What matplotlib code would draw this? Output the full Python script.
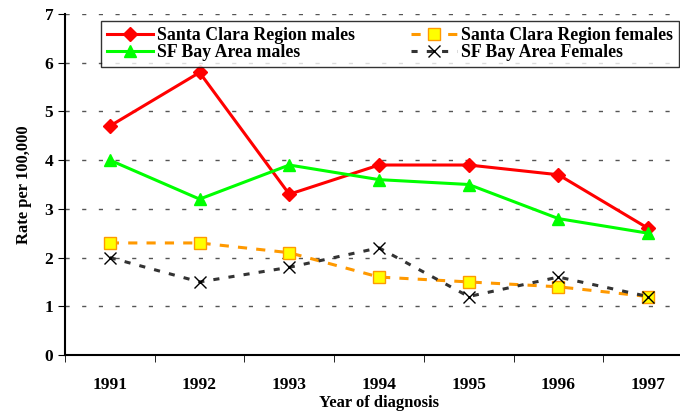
import matplotlib
matplotlib.use('Agg')
import matplotlib.pyplot as plt
import numpy as np

years = ['1991', '1992', '1993', '1994', '1995', '1996', '1997']
sc_males = [4.7, 5.8, 3.3, 3.9, 3.9, 3.7, 2.6]
sc_females = [2.3, 2.3, 2.1, 1.6, 1.5, 1.4, 1.2]
sf_males = [4.0, 3.2, 3.9, 3.6, 3.5, 2.8, 2.5]
sf_females = [2.0, 1.5, 1.8, 2.2, 1.2, 1.6, 1.2]

plt.rcParams['font.family'] = 'Liberation Serif'
plt.rcParams['font.weight'] = 'bold'

fig = plt.figure(figsize=(6.8, 4.13), dpi=100)
# right edge of the plot area runs past the picture edge
ax = fig.add_axes([65/680, 1-355/413, (693-65)/680, (355-14)/413])

x = np.arange(len(years))

ax.plot(x, sc_males, color='#ff0000', lw=2.2, marker='D', ms=7, label='Santa Clara Region males', zorder=3)
ax.plot(x, sc_females, color='#ff9900', lw=2.2, ls=(0, (3, 3)), marker='s', ms=9,
        mfc='#ffff00', mec='#ff9900', mew=1, label='Santa Clara Region females', zorder=3)
ax.plot(x, sf_males, color='#00ff00', lw=2.2, marker='^', ms=9, label='SF Bay Area males', zorder=3)
ax.plot(x, sf_females, color='#333333', lw=2.2, ls=(0, (2, 3)), marker='x', ms=9,
        mec='black', mew=1, label='SF Bay Area Females', zorder=4)

ax.set_xlim(-0.5, 6.5)
ax.set_ylim(0, 7)
ax.set_yticks(range(0, 8))
ax.set_xticks(x)
ax.set_xticklabels(years)
ax.set_xticks(np.arange(-0.5, 7, 1), minor=True)
ax.tick_params(axis='x', which='major', length=0, pad=16, labelsize=12.5)
ax.tick_params(axis='x', which='minor', length=5, direction='out')
ax.tick_params(axis='y', length=5, direction='out', labelsize=12.5)
for lab in ax.get_xticklabels() + ax.get_yticklabels():
    lab.set_fontweight('bold')

ax.yaxis.grid(True, color='#555555', ls=(0, (3, 9)), lw=1)
ax.set_axisbelow(True)
ax.spines['top'].set_visible(False)
ax.spines['right'].set_visible(False)
ax.spines['left'].set_linewidth(1.5)
ax.spines['bottom'].set_linewidth(1.5)

ax.set_xlabel('Year of diagnosis', fontsize=12, fontweight='bold', labelpad=1)
ax.set_ylabel('Rate per 100,000', fontsize=12, fontweight='bold', labelpad=9)

# legend box spans x 101..679, top at y 21 (pixels)
x0 = (101 - 65) / 628
w = (679 - 101) / 628
top = (355 - 21) / 341
handles, labels = ax.get_legend_handles_labels()
order = [0, 2, 1, 3]
leg = ax.legend([handles[i] for i in order], [labels[i] for i in order],
                ncol=2, loc='upper left', bbox_to_anchor=(x0, top - 0.2, w, 0.2),
                mode='expand', frameon=True, fancybox=False, edgecolor='black',
                prop={'family': 'Liberation Serif', 'weight': 'bold', 'size': 12.8},
                borderpad=0.35, handlelength=2.6, handletextpad=0.2,
                columnspacing=2.5, labelspacing=0.0, borderaxespad=0)
leg.get_frame().set_linewidth(1)

fig.savefig('out.png', dpi=100)
